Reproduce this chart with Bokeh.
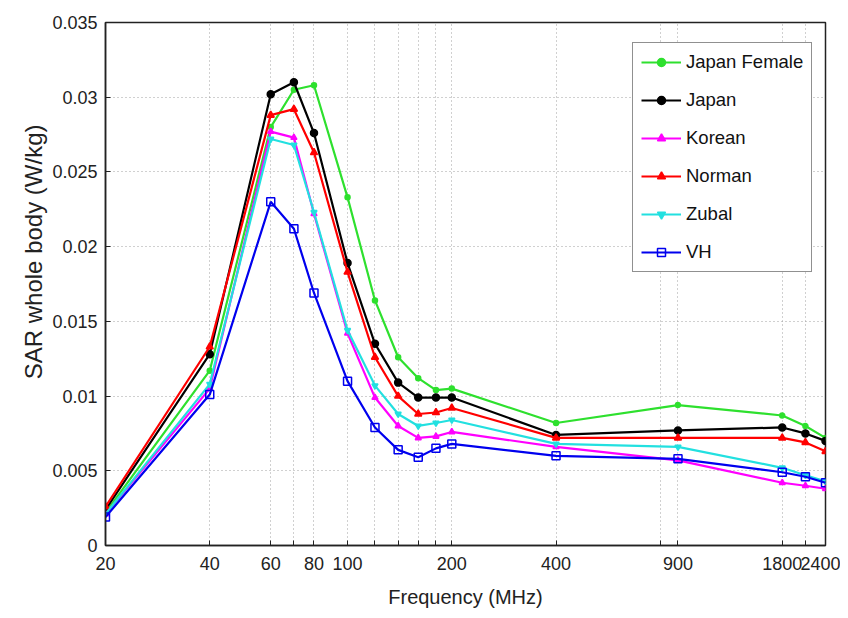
from bokeh.plotting import figure
from bokeh.models import FixedTicker, Legend, LegendItem, Title
from bokeh.embed import file_html
from bokeh.resources import INLINE

freq = [20, 40, 60, 70, 80, 100, 120, 140, 160, 180, 200, 400, 900, 1800, 2100, 2400]

japan_female = [0.0022, 0.0117, 0.0280, 0.0305, 0.0308, 0.0233, 0.0164, 0.0126, 0.0112, 0.0104, 0.0105, 0.0082, 0.0094, 0.0087, 0.0080, 0.0072]
japan = [0.0024, 0.0128, 0.0302, 0.0310, 0.0276, 0.0189, 0.0135, 0.0109, 0.0099, 0.0099, 0.0099, 0.0074, 0.0077, 0.0079, 0.0075, 0.0070]
korean = [0.0021, 0.0105, 0.0277, 0.0273, 0.0222, 0.0142, 0.0099, 0.0080, 0.0072, 0.0073, 0.0076, 0.0066, 0.0057, 0.0042, 0.0040, 0.0038]
norman = [0.0026, 0.0133, 0.0288, 0.0292, 0.0263, 0.0183, 0.0126, 0.0100, 0.0088, 0.0089, 0.0092, 0.0072, 0.0072, 0.0072, 0.0069, 0.0063]
zubal = [0.0021, 0.0108, 0.0272, 0.0268, 0.0223, 0.0144, 0.0107, 0.0088, 0.0080, 0.0082, 0.0084, 0.0068, 0.0066, 0.0052, 0.0047, 0.0043]
vh = [0.0019, 0.0101, 0.0230, 0.0212, 0.0169, 0.0110, 0.0079, 0.0064, 0.0059, 0.0065, 0.0068, 0.0060, 0.0058, 0.0049, 0.0046, 0.0042]

x_grid_ticks = [20, 40, 60, 70, 80, 100, 120, 140, 160, 180, 200, 400, 800, 900, 1800, 2100, 2400]
x_tick_labels = {20: "20", 40: "40", 60: "60", 80: "80", 100: "100", 200: "200",
                 400: "400", 900: "900", 1800: "1800", 2400: "2400"}
y_ticks = [0, 0.005, 0.01, 0.015, 0.02, 0.025, 0.03, 0.035]
y_tick_labels = ["0", "0.005", "0.01", "0.015", "0.02", "0.025", "0.03", "0.035"]

FONT = "Liberation Sans"
INK = "#222222"

p = figure(width=840, height=612, x_axis_type="log", x_range=(20, 2400), y_range=(0, 0.035),
           output_backend="svg", toolbar_location=None,
           min_border_left=105, min_border_right=15, min_border_top=22, min_border_bottom=67)
p.background_fill_color = "white"
p.border_fill_color = "white"
p.outline_line_color = INK
p.outline_line_width = 1.5

# axes
p.xaxis.ticker = FixedTicker(ticks=x_grid_ticks, minor_ticks=[])
p.xaxis.major_label_overrides = {t: x_tick_labels.get(t, "") for t in x_grid_ticks}
p.yaxis.ticker = FixedTicker(ticks=y_ticks, minor_ticks=[])
p.yaxis.major_label_overrides = {t: s for t, s in zip(y_ticks, y_tick_labels)}
for ax in (p.xaxis, p.yaxis):
    ax.major_tick_in = 5
    ax.major_tick_out = 0
    ax.minor_tick_in = 0
    ax.minor_tick_out = 0
    ax.axis_line_color = INK
    ax.axis_line_width = 1.5
    ax.major_tick_line_color = INK
    ax.major_label_text_font = FONT
    ax.major_label_text_font_size = "18px"
    ax.major_label_text_color = INK
p.xaxis.axis_label = "Frequency (MHz)"
p.xaxis.axis_label_text_font = FONT
p.xaxis.axis_label_text_font_size = "20px"
p.xaxis.axis_label_text_font_style = "normal"
p.xaxis.axis_label_text_color = INK
p.xaxis.major_label_standoff = 11
p.yaxis.major_label_standoff = 8
p.xaxis.axis_label_standoff = 13

# y axis title as a side title so it can sit slightly above centre, like the reference
ytitle = Title(text="SAR whole body (W/kg)", align="right", offset=102, standoff=6,
               text_font=FONT, text_font_size="24px", text_font_style="normal",
               text_color=INK)
p.add_layout(ytitle, "left")

# grid
p.xgrid.ticker = FixedTicker(ticks=x_grid_ticks, minor_ticks=[])
p.ygrid.ticker = FixedTicker(ticks=y_ticks, minor_ticks=[])
for g in (p.xgrid, p.ygrid):
    g.grid_line_color = "#a0a0a0"
    g.grid_line_dash = "1 3"
    g.grid_line_width = 1

series = [
    ("Japan Female", japan_female, "#2ee02e", "circle", 5, True),
    ("Japan", japan, "#000000", "circle", 7, True),
    ("Korean", korean, "#ff00ff", "triangle", 6, True),
    ("Norman", norman, "#ff0000", "triangle", 7, True),
    ("Zubal", zubal, "#22e0e0", "inverted_triangle", 6, True),
    ("VH", vh, "#0000ee", "square", 8, False),
]

items = []
for name, vals, color, marker, size, filled in series:
    r1 = p.line(freq, vals, line_color=color, line_width=2.2)
    r2 = p.scatter(freq, vals, marker=marker, size=size, line_color=color, line_width=1.5,
                   fill_color=color if filled else None)
    items.append(LegendItem(label=name, renderers=[r1, r2]))

legend = Legend(items=items, location=(527, 273))
legend.label_text_font = FONT
legend.label_text_font_size = "18.5px"
legend.label_text_color = "#111111"
legend.border_line_color = INK
legend.border_line_width = 1.2
legend.background_fill_color = "white"
legend.background_fill_alpha = 1.0
legend.glyph_width = 40
legend.glyph_height = 20
legend.label_height = 20
legend.spacing = 16
legend.padding = 8
legend.margin = 0
legend.label_standoff = 5
p.add_layout(legend, "center")

open("out.html", "w").write(file_html(p, INLINE))
